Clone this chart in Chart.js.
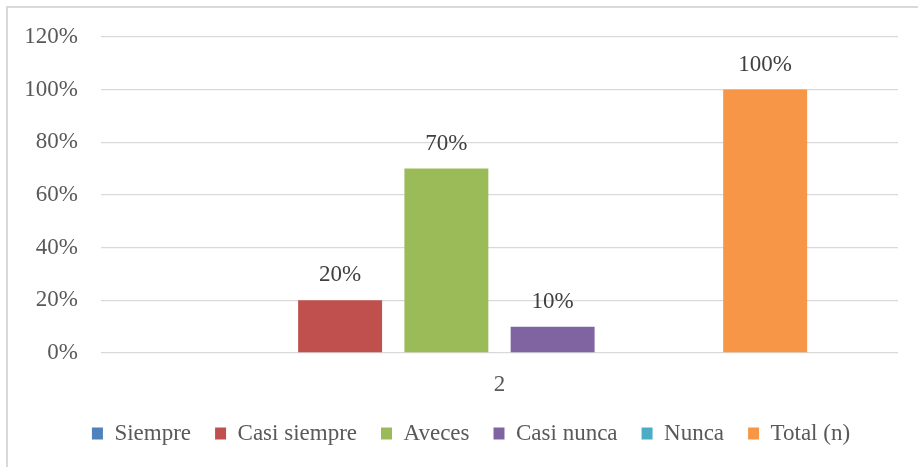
<!DOCTYPE html>
<html>
<head>
<meta charset="utf-8">
<script src="https://cdn.jsdelivr.net/npm/chart.js@4"></script>
<style>
  html, body { margin: 0; padding: 0; background: #fff; overflow: hidden; }
  #frame { position: absolute; left: 6px; top: 6px; width: 1000px; height: 1000px; border: 2px solid #d9d9d9; }
  #wrap { position: absolute; left: 0; top: 0; width: 918px; height: 467px; }
</style>
</head>
<body>
<div id="frame"></div>
<div id="wrap"><canvas id="chart" width="918" height="467"></canvas></div>
<script>
// datos del grafico
const categories = ['2'];
const seriesNames = ['Siempre', 'Casi siempre', 'Aveces', 'Casi nunca', 'Nunca', 'Total (n)'];
const seriesValues = [0, 20, 70, 10, 0, 100];
const seriesColors = ['#4F81BD', '#C0504D', '#9BBB59', '#8064A2', '#4BACC6', '#F79646'];
const yTicks = [0, 20, 40, 60, 80, 100, 120];

const FONT = 'Liberation Serif';
const FSIZE = 23;

// etiquetas encima de cada barra (solo si el valor no es cero)
const barLabels = {
    id: 'barLabels',
    afterDatasetsDraw(chart) {
        const ctx = chart.ctx;
        ctx.save();
        ctx.font = FSIZE + 'px "' + FONT + '"';
        ctx.fillStyle = '#404040';
        ctx.textAlign = 'center';
        ctx.textBaseline = 'middle';
        chart.data.datasets.forEach((ds, i) => {
            const meta = chart.getDatasetMeta(i);
            meta.data.forEach((bar, j) => {
                const v = ds.data[j];
                if (!v) return;
                ctx.fillText(v + '%', bar.x, bar.y - 25);
            });
        });
        ctx.restore();
    }
};

// altura fija de la leyenda y un pequeño desplazamiento a la derecha
const legendFix = {
    id: 'legendFix',
    beforeLayout(chart) {
        const lg = chart.legend;
        if (lg && !lg._fixed) {
            const fit = lg.fit.bind(lg);
            lg.fit = function () { fit(); this.height = 69; };
            lg._fixed = true;
        }
    },
    afterLayout(chart) {
        const lg = chart.legend;
        if (lg) {
            lg.left += 44;
            if (lg.adjustHitBoxes) lg.adjustHitBoxes();
        }
    }
};

const ctx = document.getElementById('chart').getContext('2d');
new Chart(ctx, {
    type: 'bar',
    data: {
        labels: categories,
        datasets: seriesNames.map((name, i) => ({
            label: name,
            data: [seriesValues[i]],
            backgroundColor: seriesColors[i],
            borderWidth: 0,
            categoryPercentage: 0.8,
            barPercentage: 0.79
        }))
    },
    options: {
        responsive: false,
        animation: false,
        layout: { padding: { top: 36, right: 20, bottom: 0, left: 0 } },
        scales: {
            x: {
                grid: { display: false, drawTicks: false },
                border: { display: false },
                ticks: { color: '#595959', font: { family: FONT, size: FSIZE }, padding: 18 },
                afterFit(scale) { scale.height = 45; }
            },
            y: {
                min: 0,
                max: 120,
                afterBuildTicks(scale) { scale.ticks = yTicks.map(v => ({ value: v })); },
                grid: { color: '#d9d9d9', lineWidth: 1.3, drawTicks: false },
                border: { display: false },
                ticks: {
                    color: '#595959',
                    font: { family: FONT, size: FSIZE },
                    padding: 23,
                    callback: v => v + '%'
                },
                afterFit(scale) { scale.width = 101; }
            }
        },
        plugins: {
            legend: {
                position: 'bottom',
                labels: {
                    color: '#595959',
                    font: { family: FONT, size: FSIZE },
                    boxWidth: 11,
                    boxHeight: 12,
                    padding: 24
                }
            },
            tooltip: { enabled: false }
        }
    },
    plugins: [barLabels, legendFix]
});
</script>
</body>
</html>
